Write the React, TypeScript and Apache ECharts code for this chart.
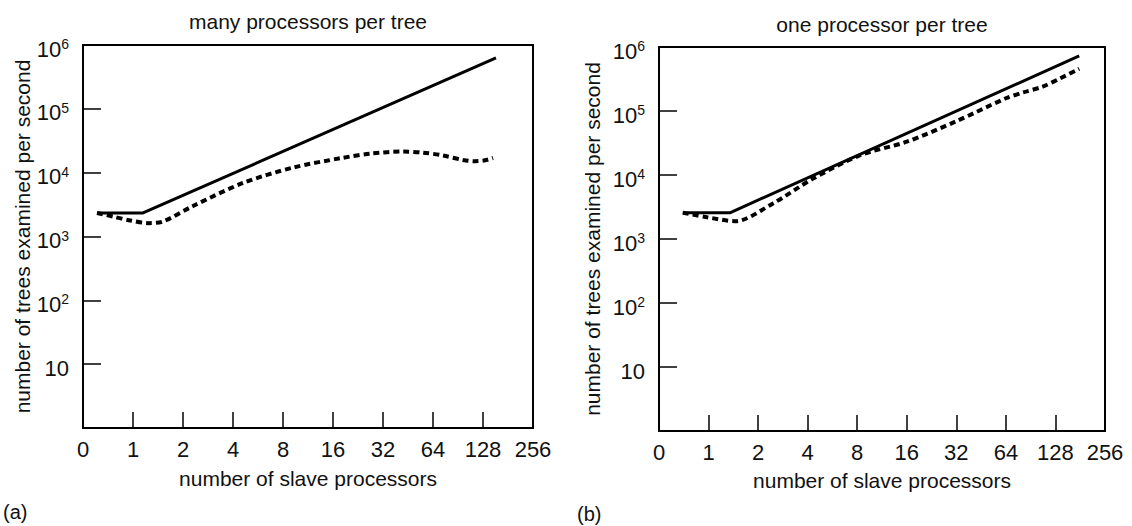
import React, { useEffect, useRef } from "react";
import * as echarts from "echarts";

// x positions are slot indices on the doubling axis: slot 0 = "0", slot 1 = "1", slot 2 = "2", slot 3 = "4", ...
const X_TICK_LABELS = ["0", "1", "2", "4", "8", "16", "32", "64", "128", "256"];

const TITLE_A = "many processors per tree";
const TITLE_B = "one processor per tree";
const X_NAME = "number of slave processors";
const Y_NAME = "number of trees examined per second";

// panel (a): many processors per tree
const aSolid: [number, number][] = [
  [0.28, 2340],
  [1.2, 2340],
  [8.26, 630000],
];
const aDashed: [number, number][] = [
  [0.28, 2340],
  [0.6, 2050],
  [0.95, 1780],
  [1.3, 1620],
  [1.6, 1720],
  [2.2, 3000],
  [3.2, 6900],
  [4.2, 12000],
  [5.18, 17000],
  [5.78, 20000],
  [6.4, 21400],
  [6.8, 20600],
  [7.2, 18600],
  [7.6, 15800],
  [7.84, 15100],
  [8.04, 15600],
  [8.2, 17000],
];

// panel (b): one processor per tree
const bSolid: [number, number][] = [
  [0.48, 2570],
  [1.43, 2570],
  [8.48, 724000],
];
const bDashed: [number, number][] = [
  [0.48, 2570],
  [0.97, 2190],
  [1.54, 1900],
  [2.3, 3600],
  [3.1, 8700],
  [4.06, 20400],
  [5.0, 33100],
  [6.0, 69200],
  [7.0, 158000],
  [7.35, 195000],
  [7.74, 240000],
  [8.1, 324000],
  [8.48, 457000],
];

const FONT = "Liberation Sans";
const INK = "#111";

function yLabel(v: number): string {
  const e = Math.round(Math.log10(v));
  if (e === 0) return "";
  if (e === 1) return "{b|10}";
  return "{b|10}{s|" + e + "}";
}

function makeX(gridIndex: number, nameGap: number) {
  return {
    type: "value",
    gridIndex,
    min: 0,
    max: 9,
    interval: 1,
    name: X_NAME,
    nameLocation: "middle",
    nameGap,
    nameTextStyle: { fontSize: 21, color: INK, fontFamily: FONT },
    axisLine: { show: false },
    axisTick: { inside: true, length: 16, lineStyle: { color: "#000", width: 1.5 } },
    axisLabel: {
      formatter: (v: number) => X_TICK_LABELS[Math.round(v)] ?? "",
      fontSize: 22,
      color: INK,
      fontFamily: FONT,
      margin: 10,
      showMinLabel: true,
      showMaxLabel: true,
    },
    splitLine: { show: false },
  };
}

function makeY(gridIndex: number, nameGap: number) {
  return {
    type: "log",
    logBase: 10,
    gridIndex,
    min: 1,
    max: 1000000,
    splitNumber: 6,
    name: Y_NAME,
    nameLocation: "middle",
    nameGap,
    nameTextStyle: { fontSize: 21, color: INK, fontFamily: FONT },
    axisLine: { show: false },
    axisTick: { inside: true, length: 18, lineStyle: { color: "#000", width: 1.5 } },
    axisLabel: {
      formatter: yLabel,
      margin: 14,
      fontSize: 22,
      fontFamily: FONT,
      color: INK,
      padding: [8, 0, 0, 0],
      rich: {
        b: { fontSize: 22, color: INK, fontFamily: FONT },
        s: { fontSize: 14, color: INK, fontFamily: FONT, padding: [0, 0, 10, 0] },
      },
    },
    splitLine: { show: false },
    minorTick: { show: false },
  };
}

function solid(i: number, data: [number, number][]) {
  return {
    type: "line",
    xAxisIndex: i,
    yAxisIndex: i,
    data,
    symbol: "none",
    smooth: false,
    lineStyle: { color: "#000", width: 3 },
  };
}

function dashed(i: number, data: [number, number][]) {
  return {
    type: "line",
    xAxisIndex: i,
    yAxisIndex: i,
    data,
    symbol: "none",
    smooth: 0.3,
    lineStyle: { color: "#000", width: 4, type: [6, 4] },
  };
}

export default function App() {
  const ref = useRef<HTMLDivElement>(null);
  useEffect(() => {
    if (!ref.current) return;
    const chart = echarts.init(ref.current, undefined, { renderer: "svg" });
    chart.setOption({
      animation: false,
      backgroundColor: "#fff",
      grid: [
        { left: 83, top: 45, width: 450, height: 383, show: true, borderColor: "#000", borderWidth: 2 },
        { left: 659, top: 47, width: 446, height: 384, show: true, borderColor: "#000", borderWidth: 2 },
      ],
      xAxis: [makeX(0, 40), makeX(1, 39)],
      yAxis: [makeY(0, 50), makeY(1, 56)],
      series: [solid(0, aSolid), dashed(0, aDashed), solid(1, bSolid), dashed(1, bDashed)],
      graphic: [
        {
          type: "text",
          x: 308,
          y: 21,
          style: { text: TITLE_A, fontSize: 21, fontFamily: FONT, fill: INK, align: "center", verticalAlign: "middle" },
        },
        {
          type: "text",
          x: 882,
          y: 24,
          style: { text: TITLE_B, fontSize: 21, fontFamily: FONT, fill: INK, align: "center", verticalAlign: "middle" },
        },
        {
          type: "text",
          x: 3,
          y: 512,
          style: { text: "(a)", fontSize: 20, fontFamily: FONT, fill: INK, align: "left", verticalAlign: "middle" },
        },
        {
          type: "text",
          x: 577,
          y: 514,
          style: { text: "(b)", fontSize: 20, fontFamily: FONT, fill: INK, align: "left", verticalAlign: "middle" },
        },
      ],
    });
    return () => chart.dispose();
  }, []);
  return (
    <div
      ref={ref}
      style={{ position: "absolute", left: 0, top: 0, width: 1132, height: 526 }}
    />
  );
}
